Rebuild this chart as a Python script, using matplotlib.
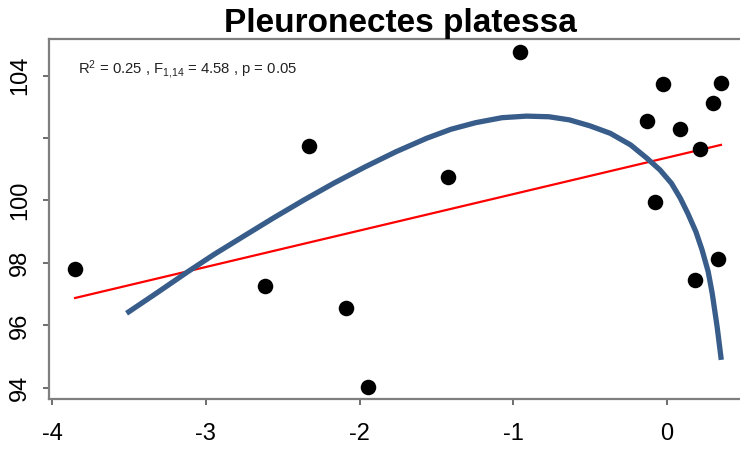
import matplotlib
matplotlib.use("Agg")
import matplotlib.pyplot as plt

plt.rcParams['font.family'] = ['Liberation Sans', 'DejaVu Sans']
plt.rcParams['mathtext.fontset'] = 'custom'
plt.rcParams['mathtext.rm'] = 'Liberation Sans'
plt.rcParams['mathtext.it'] = 'Liberation Sans:italic'

# Observations
obs_x = [-3.85, -2.615, -2.33, -2.09, -1.945, -1.424, -0.956, -0.13, -0.026,
         -0.078, 0.085, 0.30, 0.351, 0.215, 0.33, 0.18]
obs_y = [97.81, 97.26, 101.74, 96.56, 94.03, 100.75, 104.75, 102.54, 103.73,
         99.95, 102.29, 103.12, 103.76, 101.65, 98.13, 97.46]

# Linear regression line (end points)
lin_x = [-3.85, 0.351]
lin_y = [96.88, 101.78]

# Curved trend
curve_x = [-3.515, -3.316, -3.117, -2.944, -2.759, -2.560, -2.360, -2.161,
           -1.962, -1.763, -1.564, -1.405, -1.245, -1.073, -0.914, -0.768,
           -0.635, -0.502, -0.369, -0.237, -0.130, -0.046, 0.029, 0.087,
           0.135, 0.188, 0.228, 0.268, 0.294, 0.326, 0.353]
curve_y = [96.39, 97.05, 97.72, 98.28, 98.84, 99.44, 100.02, 100.57,
           101.08, 101.56, 101.99, 102.28, 102.49, 102.65, 102.70, 102.68,
           102.58, 102.39, 102.15, 101.78, 101.35, 100.98, 100.55, 100.07,
           99.59, 99.00, 98.42, 97.72, 97.03, 95.96, 94.90]

x_ticks = [-4, -3, -2, -1, 0]
y_ticks = [94, 96, 98, 100, 102, 104]
y_labels = ['94', '96', '98', '100', '', '104']

title = 'Pleuronectes platessa'
stats = r'R$^{2}$ = 0.25 , F$_{1{,}14}$ = 4.58 , p = 0.05'

fig = plt.figure(figsize=(7.4, 4.49), dpi=100)
ax = fig.add_axes([49 / 740, 50 / 449, 702 / 740, 360 / 449])

ax.scatter(obs_x, obs_y, s=125, color='black', zorder=3, linewidths=0)
ax.plot(lin_x, lin_y, color='#ff0000', lw=1.6, zorder=2)
ax.plot(curve_x, curve_y, color='#385D8A', lw=3.8, zorder=4,
        solid_capstyle='butt', solid_joinstyle='round')

ax.set_xlim(-4.0195, 0.5463)
ax.set_ylim(93.648, 105.168)

ax.set_xticks(x_ticks)
ax.set_xticklabels([str(v) for v in x_ticks])
ax.set_yticks(y_ticks)
ax.set_yticklabels(y_labels, rotation=90, va='center')

ax.tick_params(axis='both', direction='out', length=4, width=1.2,
               color='#555555', labelsize=17, labelcolor='black')
ax.tick_params(axis='x', pad=13)
ax.tick_params(axis='y', pad=9)

for side in ['left', 'top', 'bottom']:
    ax.spines[side].set_color('#7f7f7f')
    ax.spines[side].set_linewidth(1.6)
ax.spines['right'].set_visible(False)

ax.set_title(title, fontsize=24, fontweight='bold', pad=5)
ax.text(0.0413, 0.914, stats, transform=ax.transAxes, ha='left',
        va='center', fontsize=10.7, color='#222222')

fig.savefig('out.png', dpi=100)
